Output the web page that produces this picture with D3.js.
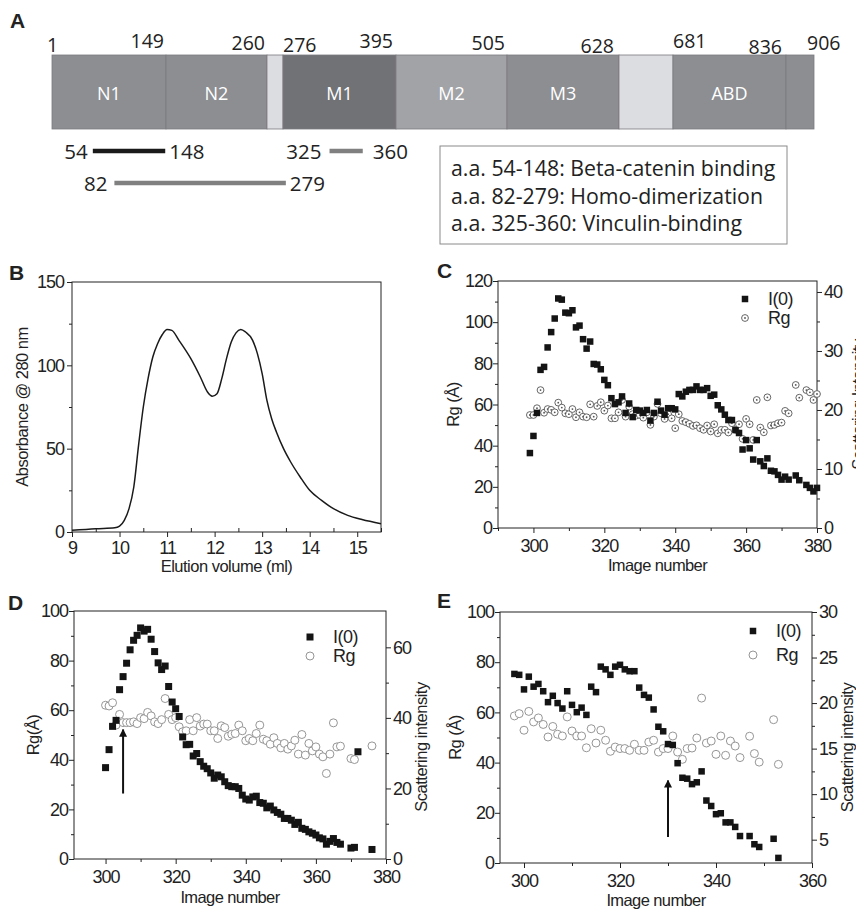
<!DOCTYPE html>
<html>
<head>
<meta charset="utf-8">
<script src="https://cdn.jsdelivr.net/npm/d3@7"></script>
<style>
  body { margin: 0; background: #fff; }
  svg text { font-family: "Liberation Sans", Arial, sans-serif; fill: #222; }
  svg text.cal { font-family: "Open Sans", "Noto Sans", sans-serif; }
  .tick text { font-size: 18px; letter-spacing: -1px; }
  .tick line { stroke: #222; }
</style>
</head>
<body>
<svg id="fig" width="856" height="912"></svg>
<script>
// ---- panel A: domain map ----
var domainNames = ["N1", "N2", "", "M1", "M2", "M3", "", "ABD", ""];
var domainBounds = [1, 149, 260, 276, 395, 505, 628, 681, 836, 906];
var rangeStart = [54, 325, 82];
var rangeEnd = [148, 360, 279];
var legendLines = [
  "a.a. 54-148: Beta-catenin binding",
  "a.a. 82-279: Homo-dimerization",
  "a.a. 325-360: Vinculin-binding"
];

// ---- panel B: elution profile ----
var bVol = [9.0, 9.5, 9.9, 10.0, 10.1, 10.2, 10.3, 10.4, 10.5, 10.6, 10.7, 10.8, 10.9, 11.0, 11.1,
  11.25, 11.5, 11.7, 11.85, 11.95, 12.05, 12.15, 12.25, 12.35, 12.45, 12.55, 12.65, 12.8, 12.9,
  13.0, 13.1, 13.2, 13.3, 13.45, 13.6, 13.8, 14.0, 14.25, 14.5, 14.8, 15.1, 15.5];
var bAbs = [1, 2, 2.5, 3.5, 7, 14, 27, 52, 75, 92, 105, 113, 118.5, 121.5, 121,
  115, 104, 93, 84, 81.5, 83, 92, 104, 114, 119.5, 121.5, 120, 115, 107,
  95, 79, 68, 60, 50, 42, 33, 25, 19, 14, 10, 7.5, 5];

// ---- panel C ----
var cImage = [299, 300, 301, 302, 303, 304, 305, 306, 307, 308, 309, 310, 311, 312, 313, 314, 315, 316, 317, 318,
  319, 320, 321, 322, 323, 324, 325, 326, 327, 328, 329, 330, 331, 332, 333, 334, 335, 336, 337, 338,
  339, 340, 341, 342, 343, 344, 345, 346, 347, 348, 349, 350, 351, 352, 353, 354, 355, 356, 357, 358,
  359, 360, 361, 362, 363, 364, 365, 366, 367, 368, 369, 370, 371, 372, 374, 375, 377, 378, 379, 380];
var cI0 = [12.7, 15.6, 19.5, 26.8, 27.3, 30.6, 33.2, 35.5, 38.9, 38.7, 36.5, 36.4, 36.9, 34.0, 34.3, 32.0, 30.4, 31.6, 27.8, 27.7,
  26.9, 25.1, 24.2, 22.0, 21.0, 21.3, 22.3, 19.5, 21.1, 18.8, 20.0, 19.9, 19.5, 20.0, 18.2, 19.5, 21.4, 19.9, 19.2, 20.3,
  20.3, 20.1, 22.7, 22.3, 23.1, 23.4, 23.4, 24.0, 23.4, 23.4, 23.7, 22.4, 22.6, 20.8, 20.1, 19.2, 18.3, 18.3, 16.6, 16.1,
  13.3, 14.9, 13.5, 11.6, 14.9, 11.3, 10.5, 11.8, 9.7, 9.6, 9.0, 8.2, 8.7, 8.2, 8.9, 8.1, 7.3, 6.8, 6.2, 6.8];
var cRg = [54.9, 54.9, 58.2, 67.0, 56.0, 57.8, 57.4, 56.2, 60.9, 58.5, 55.7, 55.3, 57.8, 53.8, 56.2, 54.1, 53.8, 60.1, 54.1, 59.3,
  61.1, 57.0, 59.5, 53.3, 53.3, 56.2, 62.2, 54.1, 59.0, 55.3, 54.6, 54.9, 53.6, 56.2, 50.1, 54.1, 60.3, 55.7, 53.0, 55.3,
  53.3, 48.5, 55.3, 52.0, 51.4, 50.6, 49.6, 49.9, 48.5, 47.7, 49.8, 46.9, 50.4, 46.0, 47.7, 47.7, 46.4, 50.9, 47.7, 50.4,
  43.3, 53.0, 50.4, 42.8, 62.2, 48.8, 46.5, 63.5, 49.8, 50.1, 50.9, 51.2, 56.9, 55.7, 69.5, 63.3, 67.0, 65.9, 62.2, 65.1];

// ---- panel D ----
var dImage = [300, 301, 302, 303, 304, 305, 306, 307, 308, 309, 310, 311, 312, 313, 314, 315, 316, 317, 318, 319,
  320, 321, 322, 323, 324, 325, 326, 327, 328, 329, 330, 331, 332, 333, 334, 335, 336, 337, 338, 339,
  340, 341, 342, 343, 344, 345, 346, 347, 348, 349, 350, 351, 352, 353, 354, 355, 356, 357, 358, 359,
  360, 361, 362, 363, 364, 365, 366, 367, 370, 371, 372, 376];
var dI0 = [25.9, 31.0, 37.6, 39.3, 48.0, 51.7, 55.5, 59.3, 62.0, 63.4, 65.5, 64.6, 65.1, 62.3, 58.8, 55.6, 53.7, 54.7, 48.9, 44.5,
  42.6, 40.4, 34.6, 32.4, 32.5, 29.2, 29.9, 27.6, 26.3, 25.6, 24.4, 22.9, 23.8, 23.3, 21.9, 20.8, 20.5, 20.5, 20.0, 18.1,
  17.0, 16.7, 17.6, 17.8, 16.0, 15.8, 14.5, 15.0, 13.9, 13.2, 12.7, 11.5, 11.5, 11.0, 9.8, 10.4, 8.7, 8.4, 7.7, 7.3,
  6.8, 6.0, 5.7, 4.2, 5.0, 5.8, 4.7, 4.2, 3.1, 3.3, 30.4, 2.7];
var dRg = [62.0, 61.7, 63.0, 54.0, 58.3, 55.0, 55.0, 55.0, 55.3, 54.6, 57.0, 56.6, 59.1, 57.7, 55.3, 54.6, 56.2, 64.7, 58.3, 56.2,
  57.0, 53.3, 51.3, 51.7, 56.2, 51.7, 57.0, 53.6, 54.4, 54.4, 51.7, 51.7, 48.6, 53.7, 53.0, 49.5, 50.3, 50.6, 54.0, 51.7,
  47.7, 48.6, 47.7, 50.6, 54.0, 48.3, 47.7, 46.3, 48.9, 46.6, 44.8, 46.6, 44.3, 45.6, 47.9, 42.3, 50.2, 41.9, 46.6, 43.6,
  45.2, 42.3, 41.2, 34.5, 42.3, 54.9, 45.2, 45.5, 40.5, 40.1, null, 45.6];

// ---- panel E ----
var eImage = [298, 299, 300, 301, 302, 303, 304, 305, 306, 307, 308, 309, 310, 311, 312, 313, 314, 315, 316, 317,
  318, 319, 320, 321, 322, 323, 324, 325, 326, 327, 328, 329, 330, 331, 332, 333, 334, 335, 336, 337,
  338, 339, 340, 341, 342, 343, 344, 345, 347, 348, 349, 352, 353];
var eI0 = [23.2, 23.1, 21.5, 22.9, 21.8, 22.1, 21.3, 20.1, 20.8, 20.0, 19.4, 21.3, 19.8, 19.0, 19.5, 18.7, 21.8, 21.2, 24.0, 23.7,
  23.1, 24.0, 24.2, 23.7, 23.5, 23.5, 21.7, 20.9, 20.6, 19.3, 17.4, 16.9, 15.5, 15.4, 13.4, 11.8, 11.7, 11.1, 11.3, 12.5,
  9.3, 8.7, 7.8, 7.9, 6.9, 6.9, 6.4, 5.4, 5.4, 4.5, 4.2, 5.1, 3.0];
var eRg = [58.6, 59.5, 52.9, 60.4, 56.2, 57.8, 55.2, 50.2, 54.4, 51.3, 50.6, 58.2, 52.6, 50.6, 50.6, 45.9, 53.5, 47.8, 52.9, 48.9,
  44.5, 46.2, 45.6, 45.6, 44.9, 47.3, 44.9, 44.9, 48.2, 48.9, 44.2, 45.6, 45.6, 50.6, 44.2, 41.3, 45.6, 45.8, 49.8, 65.7,
  47.8, 48.6, 43.3, 50.6, 42.9, 48.6, 46.6, 42.0, 50.5, 43.6, 40.2, 57.1, 39.3];

var svg = d3.select("#fig");
svg.append("rect").attr("width", 856).attr("height", 912).attr("fill", "#fff");

svg.append("defs").append("marker")
    .attr("id", "head")
    .attr("viewBox", "0 0 10 10")
    .attr("refX", 9).attr("refY", 5)
    .attr("markerWidth", 4).attr("markerHeight", 5)
    .attr("markerUnits", "strokeWidth")
    .attr("orient", "auto")
  .append("path")
    .attr("d", "M0,0 L10,5 L0,10 z")
    .attr("fill", "#111");

function panelLetter(t, x, y) {
  svg.append("text").attr("x", x).attr("y", y)
      .attr("font-size", 21).attr("font-weight", "bold")
      .text(t);
}

// ================= A =================
panelLetter("A", 10, 28);

var barTop = 55, barBottom = 129;
var aX = d3.scaleLinear()
    .domain(domainBounds)
    .range([52, 166, 267, 283, 396, 507, 619, 673, 786, 814]);
var domainFill = ["#8d8e92", "#8d8e92", "#dcdde0", "#717276", "#a2a3a7", "#8d8e92", "#dcdde0", "#8d8e92", "#8d8e92"];

var segs = domainNames.map(function(n, i) {
  return {name: n, from: domainBounds[i], to: domainBounds[i + 1], fill: domainFill[i]};
});

svg.selectAll(".seg").data(segs).enter().append("rect")
    .attr("class", "seg")
    .attr("x", function(d) { return aX(d.from); })
    .attr("y", barTop)
    .attr("width", function(d) { return aX(d.to) - aX(d.from); })
    .attr("height", barBottom - barTop)
    .attr("fill", function(d) { return d.fill; })
    .attr("stroke", "#7a7b7f")
    .attr("stroke-width", 0.8);

svg.selectAll(".segname").data(segs).enter().append("text")
    .attr("class", "segname cal")
    .attr("x", function(d) { return (aX(d.from) + aX(d.to)) / 2; })
    .attr("y", 100)
    .attr("text-anchor", "middle")
    .attr("font-size", 18)
    .style("fill", "#fff")
    .text(function(d) { return d.name; });

// boundary numbers: some sit left of the boundary, some right
var boundAnchor = ["start", "end", "end", "start", "end", "end", "end", "start", "end", "start"];
var boundDx = [-5, -2, -2, 0, -3, -2, -5, 0, -4, -7];
var boundDy = [2, -2, 0, 2, -2, 0, 3, -2, 4, 0];
svg.selectAll(".bound").data(domainBounds).enter().append("text")
    .attr("class", "bound cal")
    .attr("x", function(d, i) { return aX(d) + boundDx[i]; })
    .attr("y", function(d, i) { return 50 + boundDy[i]; })
    .attr("text-anchor", function(d, i) { return boundAnchor[i]; })
    .attr("font-size", 19.5)
    .text(function(d) { return d; });

// binding ranges
var rangeRowY = [151, 151, 183];
var rangeColor = ["#1a1a1a", "#808080", "#808080"];
var rangeGapL = [5, 8, 7];
var rangeGapR = [4, 10, 4];
rangeStart.forEach(function(s, i) {
  var y = rangeRowY[i];
  svg.append("line")
      .attr("x1", aX(s)).attr("x2", aX(rangeEnd[i]))
      .attr("y1", y).attr("y2", y)
      .attr("stroke", rangeColor[i])
      .attr("stroke-width", 4.5);
  svg.append("text").attr("class", "cal")
      .attr("x", aX(s) - rangeGapL[i]).attr("y", y + 7.5)
      .attr("text-anchor", "end").attr("font-size", 20.5)
      .text(s);
  svg.append("text").attr("class", "cal")
      .attr("x", aX(rangeEnd[i]) + rangeGapR[i]).attr("y", y + 7.5)
      .attr("font-size", 20.5)
      .text(rangeEnd[i]);
});

svg.append("rect")
    .attr("x", 440).attr("y", 146)
    .attr("width", 347).attr("height", 98)
    .attr("fill", "none").attr("stroke", "#8a8a8a").attr("stroke-width", 1);
svg.selectAll(".leg").data(legendLines).enter().append("text")
    .attr("class", "leg cal")
    .attr("x", 451)
    .attr("y", function(d, i) { return 176 + i * 27.5; })
    .attr("font-size", 21.3)
    .text(function(d) { return d; });

// ================= B =================
panelLetter("B", 9, 280);
(function() {
  var L = 72, R = 381, T = 282, Bm = 532;
  var x = d3.scaleLinear().domain([9, 15.5]).range([L, R]);
  var y = d3.scaleLinear().domain([0, 150]).range([Bm, T]);
  var g = svg.append("g");

  g.append("g").attr("transform", "translate(0," + Bm + ")")
      .call(d3.axisBottom(x).tickValues(d3.range(9, 15.01, 1)).tickSize(5).tickPadding(4).tickFormat(d3.format("d")));
  g.append("g").attr("transform", "translate(0," + Bm + ")")
      .call(d3.axisBottom(x).tickValues(d3.range(9.5, 15.6, 1)).tickSize(-4).tickFormat(""));
  g.append("g").attr("transform", "translate(" + L + ",0)")
      .call(d3.axisLeft(y).tickValues([0, 50, 100, 150]).tickSize(5).tickPadding(3));
  g.append("g").attr("transform", "translate(" + L + ",0)")
      .call(d3.axisLeft(y).tickValues([25, 75, 125]).tickSize(3).tickFormat(""));
  g.selectAll(".domain").remove();

  g.append("rect").attr("x", L).attr("y", T).attr("width", R - L).attr("height", Bm - T)
      .attr("fill", "none").attr("stroke", "#222").attr("stroke-width", 1);

  var line = d3.line()
      .x(function(d) { return x(d[0]); })
      .y(function(d) { return y(d[1]); })
      .curve(d3.curveMonotoneX);
  g.append("path")
      .datum(bVol.map(function(v, i) { return [v, bAbs[i]]; }))
      .attr("d", line)
      .attr("fill", "none").attr("stroke", "#1a1a1a").attr("stroke-width", 1.5);

  g.append("text").attr("x", (L + R) / 2).attr("y", 572)
      .attr("text-anchor", "middle").attr("font-size", 16.5).attr("letter-spacing", -0.5)
      .text("Elution volume (ml)");
  g.append("text").attr("transform", "translate(28," + ((T + Bm) / 2) + ") rotate(-90)")
      .attr("text-anchor", "middle").attr("font-size", 16.5).attr("letter-spacing", -0.5)
      .text("Absorbance @ 280 nm");
})();

// ============ SAXS scatter panels ============
function scatterPanel(o) {
  var g = svg.append("g");
  var x = d3.scaleLinear().domain(o.xDomain).range([o.left, o.right]);
  var yL = d3.scaleLinear().domain(o.yLeft).range([o.bottom, o.top]);
  var yR = d3.scaleLinear().domain(o.yRight).range([o.bottom, o.top]);

  g.append("g").attr("transform", "translate(0," + o.bottom + ")")
      .call(d3.axisBottom(x).tickValues(o.xMajor).tickSize(5).tickPadding(6));
  g.append("g").attr("transform", "translate(0," + o.bottom + ")")
      .call(d3.axisBottom(x).tickValues(o.xMinor).tickSize(3).tickFormat(""));
  g.append("g").attr("transform", "translate(" + o.left + ",0)")
      .call(d3.axisLeft(yL).tickValues(o.lMajor).tickSize(5).tickPadding(1));
  g.append("g").attr("transform", "translate(" + o.left + ",0)")
      .call(d3.axisLeft(yL).tickValues(o.lMinor).tickSize(3).tickFormat(""));
  g.append("g").attr("transform", "translate(" + o.right + ",0)")
      .call(d3.axisRight(yR).tickValues(o.rMajor).tickSize(5).tickPadding(2));
  g.append("g").attr("transform", "translate(" + o.right + ",0)")
      .call(d3.axisRight(yR).tickValues(o.rMinor).tickSize(3).tickFormat(""));
  g.selectAll(".domain").remove();

  g.append("rect").attr("x", o.left).attr("y", o.top)
      .attr("width", o.right - o.left).attr("height", o.bottom - o.top)
      .attr("fill", "none").attr("stroke", "#222").attr("stroke-width", 1);

  var rg = o.image.map(function(n, i) { return {n: n, v: o.rg[i]}; })
      .filter(function(d) { return d.v != null; });
  var i0 = o.image.map(function(n, i) { return {n: n, v: o.i0[i]}; })
      .filter(function(d) { return d.v != null; });

  g.selectAll(".rg").data(rg).enter().append("circle")
      .attr("class", "rg")
      .attr("cx", function(d) { return x(d.n); })
      .attr("cy", function(d) { return yL(d.v); })
      .attr("r", o.circleR)
      .attr("fill", "#fff")
      .attr("stroke", o.circleColor)
      .attr("stroke-width", 0.9);
  if (o.dotted) {
    g.selectAll(".rgdot").data(rg).enter().append("circle")
        .attr("cx", function(d) { return x(d.n); })
        .attr("cy", function(d) { return yL(d.v); })
        .attr("r", 0.9)
        .attr("fill", o.circleColor);
  }

  var s = o.square;
  g.selectAll(".i0").data(i0).enter().append("rect")
      .attr("class", "i0")
      .attr("x", function(d) { return x(d.n) - s / 2; })
      .attr("y", function(d) { return yR(d.v) - s / 2; })
      .attr("width", s).attr("height", s)
      .attr("fill", "#141414");

  if (o.arrow) {
    g.append("line")
        .attr("x1", x(o.arrow[0])).attr("x2", x(o.arrow[0]))
        .attr("y1", yL(o.arrow[1])).attr("y2", yL(o.arrow[2]))
        .attr("stroke", "#111").attr("stroke-width", 2)
        .attr("marker-end", "url(#head)");
  }

  // legend
  var lx = o.legend[0], ly = o.legend[1];
  g.append("rect").attr("x", lx - s / 2).attr("y", ly - s / 2)
      .attr("width", s).attr("height", s).attr("fill", "#141414");
  g.append("circle").attr("cx", lx).attr("cy", ly + o.legendGap).attr("r", o.circleR)
      .attr("fill", "#fff").attr("stroke", o.circleColor).attr("stroke-width", 0.9);
  if (o.dotted) {
    g.append("circle").attr("cx", lx).attr("cy", ly + o.legendGap).attr("r", 0.9).attr("fill", o.circleColor);
  }
  g.append("text").attr("x", lx + 23).attr("y", ly + 6)
      .attr("font-size", 18).attr("letter-spacing", -0.5).text("I(0)");
  g.append("text").attr("x", lx + 23).attr("y", ly + o.legendGap + 6)
      .attr("font-size", 18).attr("letter-spacing", -0.5).text("Rg");

  var cy = (o.top + o.bottom) / 2;
  g.append("text").attr("x", (o.left + o.right) / 2).attr("y", o.xLabelY)
      .attr("text-anchor", "middle").attr("font-size", 16.5).attr("letter-spacing", -0.6)
      .text("Image number");
  g.append("text").attr("transform", "translate(" + o.yLabelX + "," + cy + ") rotate(-90)")
      .attr("text-anchor", "middle").attr("font-size", 16.5).attr("letter-spacing", -0.5)
      .text(o.yLabel);
  g.append("text").attr("transform", "translate(" + o.rLabelX + "," + (cy + o.rLabelDy) + ") rotate(-90)")
      .attr("text-anchor", "middle").attr("font-size", 16.5).attr("letter-spacing", -0.5)
      .text(o.rLabel);
}

panelLetter("C", 437, 278);
scatterPanel({
  left: 498, right: 817, top: 281, bottom: 528,
  xDomain: [290, 380], yLeft: [0, 120], yRight: [0, 41.86],
  xMajor: [300, 320, 340, 360, 380], xMinor: [290, 310, 330, 350, 370],
  lMajor: [0, 20, 40, 60, 80, 100, 120], lMinor: [10, 30, 50, 70, 90, 110],
  rMajor: [0, 10, 20, 30, 40], rMinor: [5, 15, 25, 35],
  image: cImage, i0: cI0, rg: cRg,
  square: 6.5, circleR: 3.4, circleColor: "#555", dotted: true,
  legend: [745, 299], legendGap: 19,
  xLabelY: 571, yLabelX: 459, yLabel: "Rg (Å)",
  rLabelX: 864, rLabelDy: 0, rLabel: "Scattering Intensity"
});

panelLetter("D", 8, 610);
scatterPanel({
  left: 74, right: 386, top: 611, bottom: 859,
  xDomain: [291, 380], yLeft: [0, 100], yRight: [0, 70.3],
  xMajor: [300, 320, 340, 360, 380], xMinor: [310, 330, 350, 370],
  lMajor: [0, 20, 40, 60, 80, 100], lMinor: [10, 30, 50, 70, 90],
  rMajor: [0, 20, 40, 60], rMinor: [10, 30, 50],
  image: dImage, i0: dI0, rg: dRg,
  square: 7, circleR: 4, circleColor: "#8a8a8a", dotted: false,
  arrow: [305, 26.4, 52.2],
  legend: [310, 637], legendGap: 19,
  xLabelY: 903, yLabelX: 39, yLabel: "Rg(Å)",
  rLabelX: 427, rLabelDy: 12, rLabel: "Scattering intensity"
});

panelLetter("E", 437, 608);
scatterPanel({
  left: 500, right: 812, top: 612, bottom: 863,
  xDomain: [295, 360], yLeft: [0, 100], yRight: [2.44, 30],
  xMajor: [300, 320, 340, 360], xMinor: [310, 330, 350],
  lMajor: [0, 20, 40, 60, 80, 100], lMinor: [10, 30, 50, 70, 90],
  rMajor: [5, 10, 15, 20, 25, 30], rMinor: [7.5, 12.5, 17.5, 22.5, 27.5],
  image: eImage, i0: eI0, rg: eRg,
  square: 6.5, circleR: 4, circleColor: "#8a8a8a", dotted: false,
  arrow: [330, 10.4, 32.9],
  legend: [753, 631], legendGap: 24,
  xLabelY: 906, yLabelX: 461, yLabel: "Rg (Å)",
  rLabelX: 853, rLabelDy: 10, rLabel: "Scattering intensity"
});
</script>
</body>
</html>
